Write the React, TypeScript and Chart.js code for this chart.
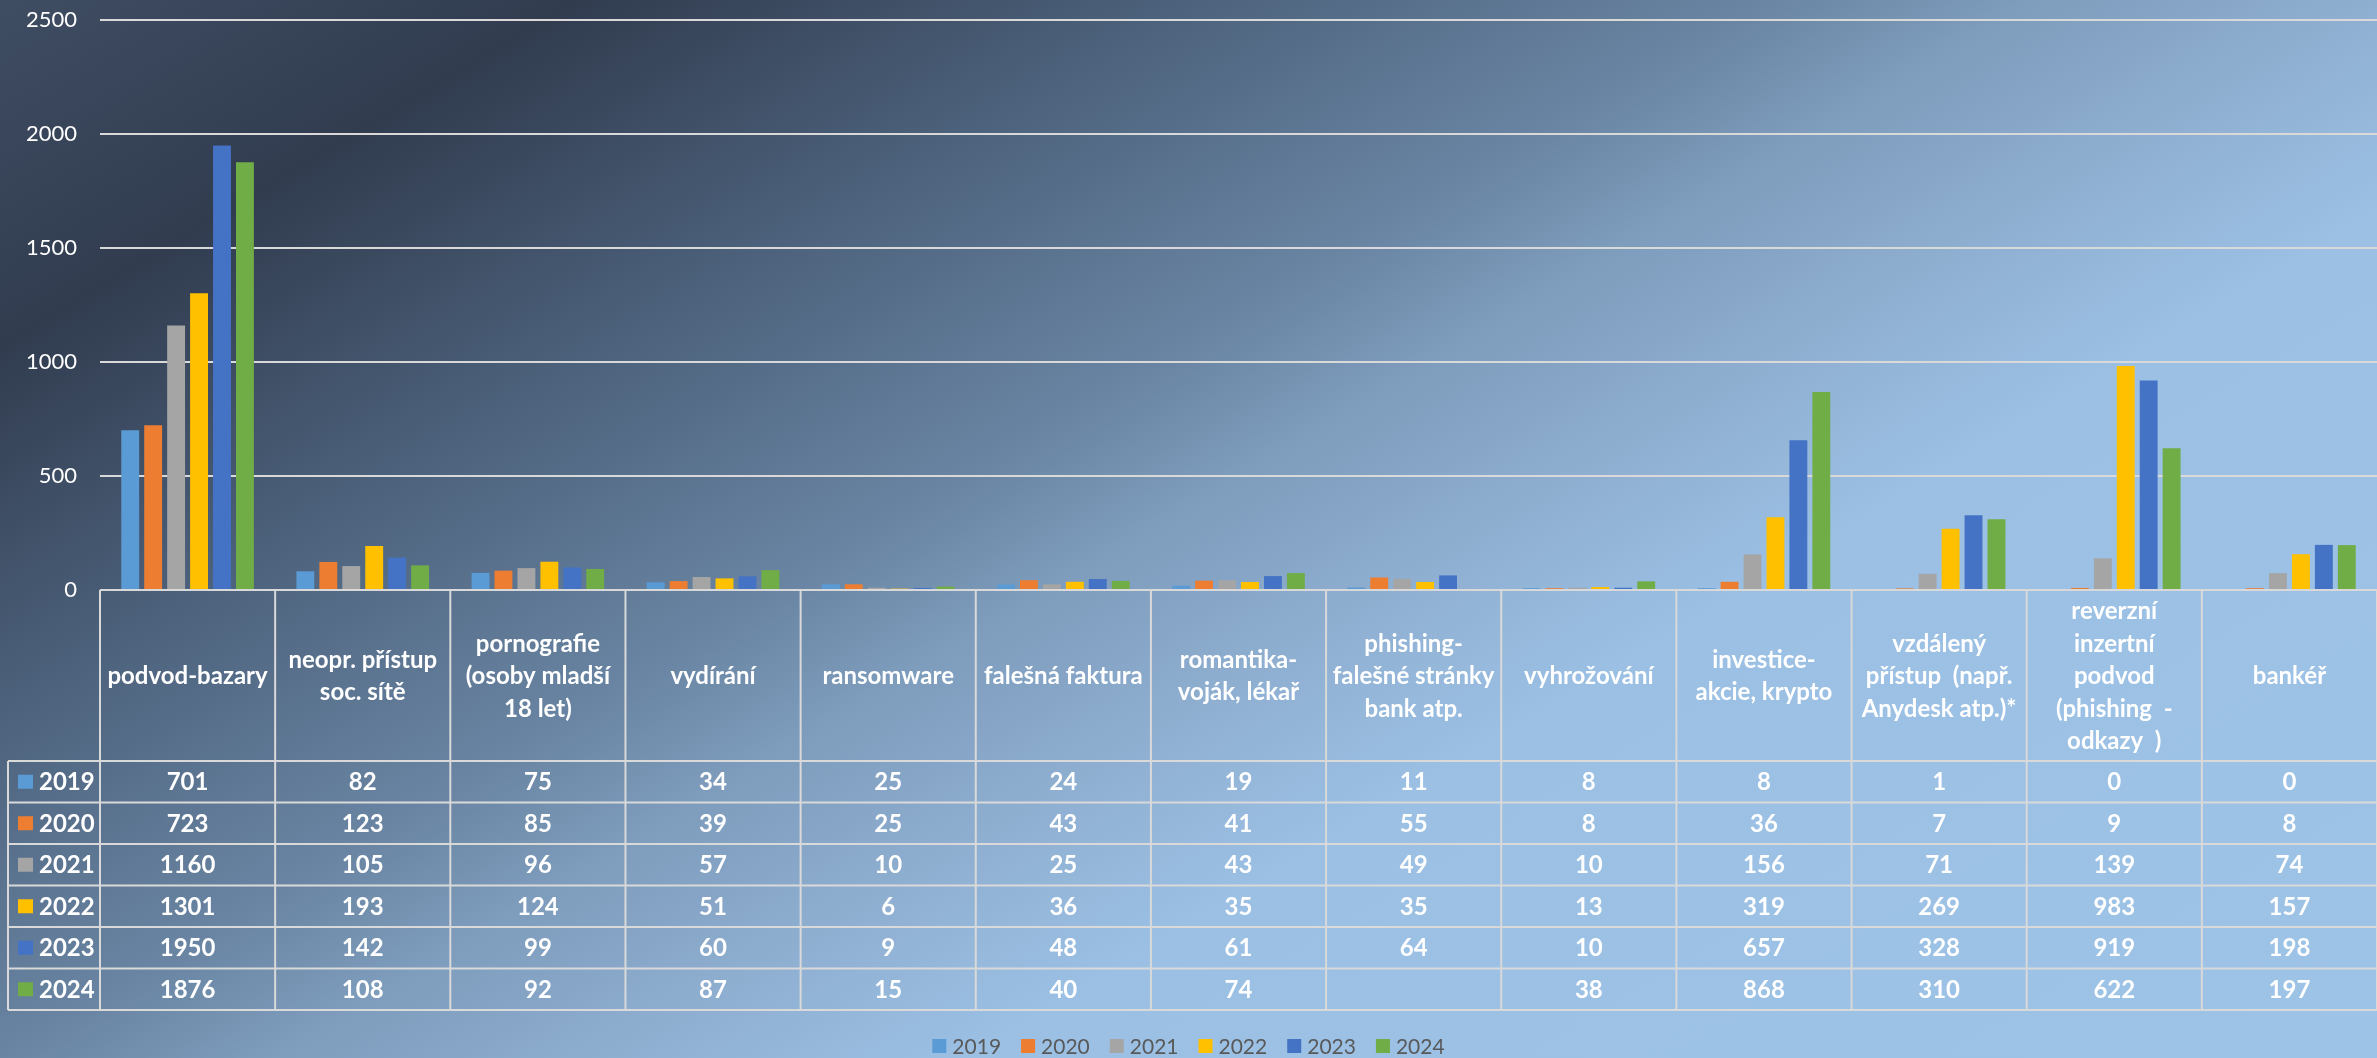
import { useEffect, useRef } from "react";
import { Chart, registerables } from "chart.js";

Chart.register(...registerables);

const years = ["2019", "2020", "2021", "2022", "2023", "2024"];

const categories: string[][] = [
  ["podvod-bazary"],
  ["neopr. přístup", "soc. sítě"],
  ["pornografie", "(osoby mladší", "18 let)"],
  ["vydírání"],
  ["ransomware"],
  ["falešná faktura"],
  ["romantika-", "voják, lékař"],
  ["phishing-", "falešné stránky", "bank atp."],
  ["vyhrožování"],
  ["investice-", "akcie, krypto"],
  ["vzdálený", "přístup  (např.", "Anydesk atp.)*"],
  ["reverzní", "inzertní", "podvod", "(phishing  -", "odkazy  )"],
  ["bankéř"],
];

const values2019 = [701, 82, 75, 34, 25, 24, 19, 11, 8, 8, 1, 0, 0];
const values2020 = [723, 123, 85, 39, 25, 43, 41, 55, 8, 36, 7, 9, 8];
const values2021 = [1160, 105, 96, 57, 10, 25, 43, 49, 10, 156, 71, 139, 74];
const values2022 = [1301, 193, 124, 51, 6, 36, 35, 35, 13, 319, 269, 983, 157];
const values2023 = [1950, 142, 99, 60, 9, 48, 61, 64, 10, 657, 328, 919, 198];
const values2024 = [1876, 108, 92, 87, 15, 40, 74, null, 38, 868, 310, 622, 197];

const seriesValues = [values2019, values2020, values2021, values2022, values2023, values2024];
const seriesColors = ["#5B9BD5", "#ED7D31", "#A5A5A5", "#FFC000", "#4472C4", "#70AD47"];

const yMin = 0;
const yMax = 2500;
const yStep = 500;

const FONT = "Lato, 'Open Sans', 'Noto Sans', sans-serif";
const W = 2377;
const H = 1058;

const tablePlugin = {
  id: "dataTable",
  afterDraw(chart: any) {
    const ctx: CanvasRenderingContext2D = chart.ctx;
    const area = chart.chartArea;
    const xs = chart.scales.x;
    const labels = chart.data.labels as string[][];
    const n = labels.length;
    const colW = (area.right - area.left) / n;
    const top = area.bottom;
    const headerH = 171;
    const rowH = 41.5;
    const tableLeft = 8;
    const rowsTop = top + headerH;
    const nRows = chart.data.datasets.length;
    const bottom = rowsTop + rowH * nRows;
    const lineH = 32.5;
    const capHalf = 8.6;

    ctx.save();
    ctx.strokeStyle = "#d9d9d9";
    ctx.lineWidth = 2;
    ctx.beginPath();
    ctx.moveTo(area.left, top);
    ctx.lineTo(area.right, top);
    for (let r = 0; r <= nRows; r++) {
      const y = rowsTop + r * rowH;
      ctx.moveTo(tableLeft, y);
      ctx.lineTo(area.right, y);
    }
    ctx.moveTo(tableLeft, rowsTop);
    ctx.lineTo(tableLeft, bottom);
    for (let i = 0; i <= n; i++) {
      const x = i < n ? xs.getPixelForValue(i) - colW / 2 : xs.getPixelForValue(n - 1) + colW / 2;
      ctx.moveTo(x, top);
      ctx.lineTo(x, bottom);
    }
    ctx.stroke();

    ctx.fillStyle = "#ffffff";
    ctx.font = `bold 24px ${FONT}`;
    ctx.textAlign = "center";
    ctx.textBaseline = "alphabetic";
    const headerCenter = top + headerH / 2;
    for (let i = 0; i < n; i++) {
      const cx = xs.getPixelForValue(i);
      const lines = labels[i];
      const start = headerCenter - ((lines.length - 1) * lineH) / 2;
      lines.forEach((ln, k) => {
        ctx.fillText(ln, cx, start + k * lineH + capHalf);
      });
    }

    chart.data.datasets.forEach((ds: any, r: number) => {
      const cy = rowsTop + r * rowH + rowH / 2;
      ctx.fillStyle = ds.backgroundColor;
      ctx.fillRect(18, cy - 7, 15, 14);
      ctx.fillStyle = "#ffffff";
      ctx.textAlign = "left";
      ctx.fillText(ds.label, 39, cy + capHalf);
      ctx.textAlign = "center";
      for (let i = 0; i < n; i++) {
        const v = ds.data[i];
        if (v === null || v === undefined) continue;
        ctx.fillText(String(v), xs.getPixelForValue(i), cy + capHalf);
      }
    });

    ctx.font = `21px ${FONT}`;
    ctx.textAlign = "left";
    const box = 14;
    const gap = 6;
    const spacing = 20;
    const widths = chart.data.datasets.map((ds: any) => box + gap + ctx.measureText(ds.label).width);
    const total = widths.reduce((a: number, b: number) => a + b, 0) + spacing * (widths.length - 1);
    let x = chart.width / 2 - total / 2;
    const ly = 1046;
    chart.data.datasets.forEach((ds: any, r: number) => {
      ctx.fillStyle = ds.backgroundColor;
      ctx.fillRect(x, ly - box / 2, box, box);
      ctx.fillStyle = "#595959";
      ctx.fillText(ds.label, x + box + gap, ly + 7.5);
      x += widths[r] + spacing;
    });
    ctx.restore();
  },
};

export default function App() {
  const ref = useRef<HTMLCanvasElement | null>(null);

  useEffect(() => {
    if (!ref.current) return;
    const chart = new Chart(ref.current, {
      type: "bar",
      data: {
        labels: categories,
        datasets: years.map((y, i) => ({
          label: y,
          data: seriesValues[i],
          backgroundColor: seriesColors[i],
          borderWidth: 0,
          categoryPercentage: 0.786,
          barPercentage: 0.78,
        })),
      },
      options: {
        responsive: false,
        animation: false,
        devicePixelRatio: 1,
        layout: { padding: { top: 20, left: 0, right: 0, bottom: 0 } },
        plugins: {
          legend: { display: false },
          tooltip: { enabled: false },
          title: { display: false },
        },
        scales: {
          x: {
            type: "category",
            ticks: { display: false },
            grid: { display: false },
            border: { display: false },
            afterFit: (s: any) => {
              s.height = H - 590;
            },
          },
          y: {
            min: yMin,
            max: yMax,
            ticks: {
              stepSize: yStep,
              color: "#ffffff",
              font: { family: FONT, size: 22 },
              padding: 23,
              callback: (v: any) => String(v),
            },
            grid: { color: "#d9d9d9", lineWidth: 2, drawTicks: false },
            border: { display: false },
            afterFit: (s: any) => {
              s.width = 100;
              s.paddingTop = 0;
              s.paddingBottom = 0;
            },
          },
        },
      },
      plugins: [tablePlugin],
    } as any);
    return () => chart.destroy();
  }, []);

  return (
    <div
      style={{
        position: "fixed",
        left: 0,
        top: 0,
        width: W,
        height: H,
        background:
          "linear-gradient(149deg, #3f4d63 0%, #313c4f 14%, #4f6580 30%, #6a86a4 43%, #7e9cbc 49%, #8eaed0 57%, #9bc0e4 66%, #9dc3e6 100%)",
      }}
    >
      <canvas ref={ref} width={W} height={H} style={{ display: "block" }} />
    </div>
  );
}
